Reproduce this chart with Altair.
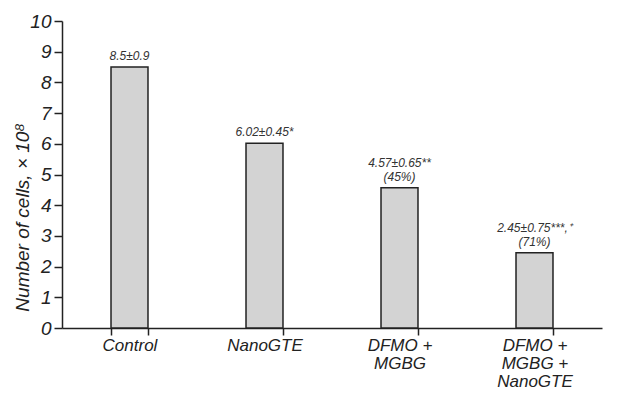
import altair as alt
import pandas as pd

categories = ["Control", "NanoGTE", "DFMO +\nMGBG", "DFMO +\nMGBG +\nNanoGTE"]
values = [8.5, 6.02, 4.57, 2.45]
notes_top = ["", "", "4.57±0.65**", "2.45±0.75***,⁺"]
notes_bottom = ["8.5±0.9", "6.02±0.45*", "(45%)", "(71%)"]
y_ticks = list(range(0, 11))

df = pd.DataFrame({"group": categories, "value": values,
                   "top": notes_top, "bottom": notes_bottom})

FONT = "Liberation Sans"

x_enc = alt.X(
    "group:N",
    sort=categories,
    title=None,
    scale=alt.Scale(paddingInner=0.726, paddingOuter=0.363),
    axis=alt.Axis(
        labelAngle=0,
        labelExpr="split(datum.label, '\\n')",
        labelFont=FONT,
        labelFontStyle="italic",
        labelFontSize=17,
        labelLineHeight=18,
        labelColor="#222",
        labelPadding=2,
        tickBand="extent",
        tickSize=7,
        tickWidth=1.5,
        tickColor="#222",
        domainColor="#222",
        domainWidth=1.5,
        labelBaseline="top",
    ),
)

y_enc = alt.Y(
    "value:Q",
    scale=alt.Scale(domain=[0, 10], nice=False),
    axis=alt.Axis(
        values=y_ticks,
        labelOverlap=False,
        title="Number of cells, × 10⁸",
        titleFont=FONT,
        titleFontStyle="italic",
        titleFontWeight="normal",
        titleFontSize=19,
        titleColor="#222",
        titleX=-40,
        titleY=196,
        titleBaseline="middle",
        labelFont=FONT,
        labelFontStyle="italic",
        labelFontSize=19,
        labelColor="#222",
        labelPadding=3,
        tickSize=8,
        tickWidth=1.5,
        tickColor="#222",
        domainColor="#222",
        domainWidth=1.5,
        grid=False,
    ),
)

bars = alt.Chart(df).mark_bar(
    color="#d3d3d3", stroke="#222", strokeWidth=1.5
).encode(x=x_enc, y=y_enc)

text_style = dict(font=FONT, fontStyle="italic", fontSize=12,
                  baseline="bottom", color="#333")

labels_bottom = alt.Chart(df).mark_text(dy=-4, **text_style).encode(
    x=x_enc, y=y_enc, text="bottom:N")
labels_top = alt.Chart(df).mark_text(dy=-18, **text_style).encode(
    x=x_enc, y=y_enc, text="top:N")

chart = (
    alt.layer(bars, labels_bottom, labels_top)
    .properties(
        width=540,
        height=307,
        autosize=alt.AutoSizeParams(type="none"),
        padding={"left": 54, "top": 13, "right": 32, "bottom": 64},
    )
    .configure_view(stroke=None)
)

chart.save("out.html", embed_options={"renderer": "svg", "actions": False})
